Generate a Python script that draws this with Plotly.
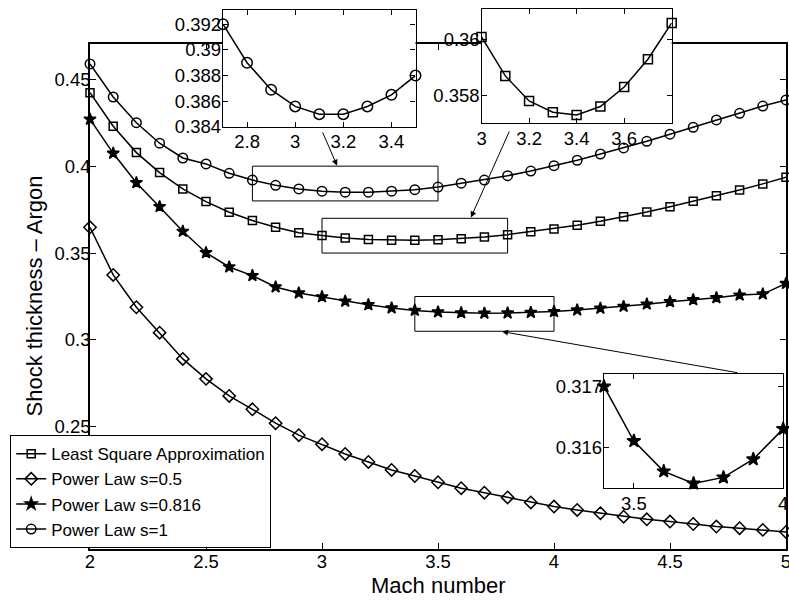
import plotly.graph_objects as go

# ---------------- data ----------------
mach = [2.0, 2.1, 2.2, 2.3, 2.4, 2.5, 2.6, 2.7, 2.8, 2.9,
        3.0, 3.1, 3.2, 3.3, 3.4, 3.5, 3.6, 3.7, 3.8, 3.9,
        4.0, 4.1, 4.2, 4.3, 4.4, 4.5, 4.6, 4.7, 4.8, 4.9, 5.0]

least_square = [0.4423, 0.4230, 0.4078, 0.3963, 0.3869, 0.3796, 0.3735, 0.3687, 0.3648, 0.3617,
                0.3601, 0.3587, 0.3578, 0.3574, 0.3573, 0.3576, 0.3583, 0.3593, 0.3606, 0.3623,
                0.3639, 0.3660, 0.3683, 0.3709, 0.3736, 0.3767, 0.3798, 0.3830, 0.3863, 0.3898, 0.3936]

power_05 = [0.3648, 0.3374, 0.3188, 0.3042, 0.2891, 0.2776, 0.2678, 0.2601, 0.2521, 0.2452,
            0.2400, 0.2344, 0.2298, 0.2252, 0.2217, 0.2181, 0.2147, 0.2121, 0.2094, 0.2065,
            0.2041, 0.2022, 0.2003, 0.1983, 0.1968, 0.1955, 0.1941, 0.1926, 0.1917, 0.1907, 0.1895]

power_0816 = [0.4270, 0.4074, 0.3905, 0.3767, 0.3625, 0.3502, 0.3420, 0.3370, 0.3305, 0.3270,
              0.3248, 0.3223, 0.3203, 0.3184, 0.3170, 0.3161, 0.3156, 0.3154, 0.3155, 0.3158,
              0.3163, 0.3172, 0.3182, 0.3193, 0.3206, 0.3220, 0.3231, 0.3243, 0.3258, 0.3264, 0.3325]

power_1 = [0.4588, 0.4398, 0.4250, 0.4132, 0.4047, 0.4013, 0.3959, 0.3920, 0.3890, 0.3869,
           0.3856, 0.3850, 0.3850, 0.3856, 0.3865, 0.3880, 0.3902, 0.3920, 0.3945, 0.3972,
           0.4003, 0.4034, 0.4070, 0.4105, 0.4143, 0.4184, 0.4224, 0.4266, 0.4304, 0.4346, 0.4381]

series_names = ["Least Square Approximation", "Power Law s=0.5", "Power Law s=0.816", "Power Law s=1"]

main_xticks = [2, 2.5, 3, 3.5, 4, 4.5, 5]
main_xticktext = ["2", "2.5", "3", "3.5", "4", "4.5", "5"]
main_yticks = [0.25, 0.3, 0.35, 0.4, 0.45]
main_yticktext = ["0.25", "0.3", "0.35", "0.4", "0.45"]

# inset windows (x-range of zoom, y-range of zoom box)
inset1_xrange = [2.7, 3.5]
inset1_box_y = [0.38, 0.40]
inset1_xticks = [2.8, 3.0, 3.2, 3.4]
inset1_xticktext = ["2.8", "3", "3.2", "3.4"]
inset1_yticks = [0.384, 0.386, 0.388, 0.390, 0.392]
inset1_yticktext = ["0.384", "0.386", "0.388", "0.39", "0.392"]

inset2_xrange = [3.0, 3.8]
inset2_box_y = [0.35, 0.37]
inset2_xticks = [3.0, 3.2, 3.4, 3.6]
inset2_xticktext = ["3", "3.2", "3.4", "3.6"]
inset2_yticks = [0.358, 0.360]
inset2_yticktext = ["0.358", "0.36"]

inset3_xrange = [3.4, 4.0]
inset3_box_y = [0.305, 0.325]
inset3_xticks = [3.5, 4.0]
inset3_xticktext = ["3.5", "4"]
inset3_yticks = [0.316, 0.317]
inset3_yticktext = ["0.316", "0.317"]

# ---------------- figure ----------------
W, H = 789, 602
FONT = "Liberation Sans, Arial, Helvetica, sans-serif"
TICK_SIZE = 18.5


def px_dom_x(a, b):
    return [a / W, b / W]


def px_dom_y(top, bottom):
    return [1 - bottom / H, 1 - top / H]


def sub(xs, ys, lo, hi):
    pts = [(x, y) for x, y in zip(xs, ys) if lo - 1e-9 <= x <= hi + 1e-9]
    return [p[0] for p in pts], [p[1] for p in pts]


fig = go.Figure()

styles = [
    dict(symbol="square-open", size=8),
    dict(symbol="diamond-open", size=9.5),
    dict(symbol="star", size=9),
    dict(symbol="circle-open", size=9.5),
]
all_series = [least_square, power_05, power_0816, power_1]

for name, ys, st in zip(series_names, all_series, styles):
    fig.add_trace(go.Scatter(
        x=mach, y=ys, name=name, mode="lines+markers",
        line=dict(color="black", width=1.5),
        marker=dict(symbol=st["symbol"], size=st["size"], color="black",
                    line=dict(color="black", width=1.5)),
        cliponaxis=False, xaxis="x", yaxis="y"))

# insets
insets = [
    (power_1, styles[3], inset1_xrange, "x2", "y2"),
    (least_square, styles[0], inset2_xrange, "x3", "y3"),
    (power_0816, styles[2], inset3_xrange, "x4", "y4"),
]
for ys, st, xr, xa, ya in insets:
    sx, sy = sub(mach, ys, xr[0], xr[1])
    fig.add_trace(go.Scatter(
        x=sx, y=sy, mode="lines+markers", showlegend=False,
        line=dict(color="black", width=1.5),
        marker=dict(symbol=st["symbol"], size=st["size"] + 1, color="black",
                    line=dict(color="black", width=1.5)),
        cliponaxis=False, xaxis=xa, yaxis=ya))

common_axis = dict(
    showline=True, linecolor="black", linewidth=1.3, mirror="ticks",
    ticks="inside", ticklen=5, tickcolor="black", tickwidth=1,
    showgrid=False, zeroline=False, automargin=False,
    tickfont=dict(family=FONT, size=TICK_SIZE, color="black"),
)

fig.update_layout(
    template="none",
    width=W, height=H,
    margin=dict(l=0, r=0, t=0, b=0, pad=0, autoexpand=False),
    paper_bgcolor="white", plot_bgcolor="white",
    font=dict(family=FONT, color="black"),
    xaxis=dict(common_axis, domain=px_dom_x(90, 786), range=[2, 5],
               tickvals=main_xticks, ticktext=main_xticktext, ticklen=6,
               linewidth=1.6, anchor="y", ticklabelstandoff=-5,
               ticklabeloverflow="allow"),
    yaxis=dict(common_axis, domain=px_dom_y(44, 549), range=[0.1797, 0.4703],
               tickvals=main_yticks, ticktext=main_yticktext, ticklen=6,
               linewidth=1.6, anchor="x", ticklabelstandoff=-6),
    xaxis2=dict(common_axis, domain=px_dom_x(223, 415.5), range=inset1_xrange,
                tickvals=inset1_xticks, ticktext=inset1_xticktext, anchor="y2",
                ticklabelstandoff=-2),
    yaxis2=dict(common_axis, domain=px_dom_y(10, 127), range=[0.384, 0.3931],
                tickvals=inset1_yticks, ticktext=inset1_yticktext, anchor="x2",
                ticklabelstandoff=-3),
    xaxis3=dict(common_axis, domain=px_dom_x(481.5, 671.7), range=[2.9999, 3.8],
                tickvals=inset2_xticks, ticktext=inset2_xticktext, anchor="y3",
                ticklabelstandoff=-2),
    yaxis3=dict(common_axis, domain=px_dom_y(9, 123.3), range=[0.357, 0.3611],
                tickvals=inset2_yticks, ticktext=inset2_yticktext, anchor="x3",
                ticklabelstandoff=-3),
    xaxis4=dict(common_axis, domain=px_dom_x(604, 783.3), range=[3.4, 4.0005],
                tickvals=inset3_xticks, ticktext=inset3_xticktext, anchor="y4",
                ticklabelstandoff=-2, ticklabeloverflow="allow"),
    yaxis4=dict(common_axis, domain=px_dom_y(374.3, 488.3), range=[0.31532, 0.3172],
                tickvals=inset3_yticks, ticktext=inset3_yticktext, anchor="x4",
                ticklabelstandoff=-3),
    legend=dict(
        x=10 / W, y=1 - 548 / H, xanchor="left", yanchor="bottom",
        bgcolor="white", bordercolor="black", borderwidth=1.2,
        font=dict(family=FONT, size=17, color="black"),
        tracegroupgap=0, itemwidth=30,
    ),
    showlegend=True,
)

# zoom boxes on the main axes
for xr, yr in [(inset1_xrange, inset1_box_y), (inset2_xrange, inset2_box_y), (inset3_xrange, inset3_box_y)]:
    fig.add_shape(type="rect", xref="x", yref="y", x0=xr[0], x1=xr[1], y0=yr[0], y1=yr[1],
                  line=dict(color="black", width=1), layer="above")

# arrows from insets to zoom boxes (tail -> head, in data coords of the main axes)
arrows = [
    ((3.0, 0.4203), (3.065, 0.4003)),
    ((3.81, 0.4208), (3.642, 0.3705)),
    ((4.797, 0.2810), (3.776, 0.3048)),
]
for (tx, ty), (hx, hy) in arrows:
    fig.add_annotation(x=hx, y=hy, ax=tx, ay=ty, xref="x", yref="y", axref="x", ayref="y",
                       text="", showarrow=True, arrowhead=2, arrowsize=1.2, arrowwidth=1,
                       arrowcolor="black", standoff=0)

# axis titles
fig.add_annotation(text="Mach number", x=438 / W, y=1 - 585 / H, xref="paper", yref="paper",
                   xanchor="center", yanchor="middle", showarrow=False, borderpad=0,
                   font=dict(family=FONT, size=22, color="black"))
fig.add_annotation(text="Shock thickness \u2013 Argon", x=34 / W, y=1 - 296.5 / H,
                   xref="paper", yref="paper", textangle=-90,
                   xanchor="center", yanchor="middle", showarrow=False,
                   font=dict(family=FONT, size=22, color="black"))

fig.write_html("out.html",
               config={"displayModeBar": False},
               post_script="document.body.style.margin='0px';document.body.style.overflow='hidden';")
